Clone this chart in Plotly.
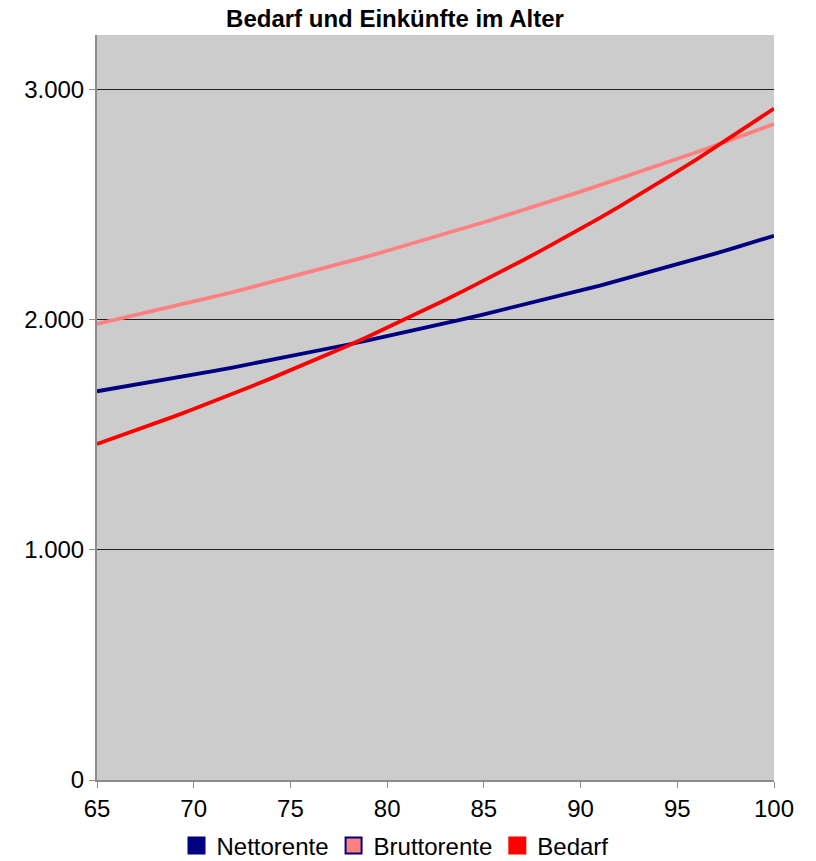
import plotly.graph_objects as go

# Age in years (x axis)
ages = list(range(65, 101))

# Monthly amounts per age
nettorente = [
    1688, 1702, 1716, 1730, 1745, 1760, 1775, 1791, 1807, 1823,
    1840, 1857, 1874, 1891, 1909, 1927, 1945, 1964, 1983, 2002,
    2022, 2042, 2062, 2083, 2104, 2126, 2147, 2170, 2192, 2216,
    2239, 2263, 2287, 2312, 2337, 2363,
]
bruttorente = [
    1980, 1999, 2018, 2037, 2057, 2077, 2098, 2118, 2140, 2161,
    2183, 2205, 2228, 2251, 2274, 2298, 2322, 2347, 2371, 2397,
    2422, 2448, 2474, 2501, 2528, 2555, 2583, 2611, 2639, 2668,
    2697, 2726, 2756, 2787, 2817, 2848,
]
bedarf = [
    1459, 1488, 1518, 1548, 1579, 1611, 1643, 1676, 1710, 1744,
    1779, 1814, 1850, 1887, 1925, 1964, 2003, 2043, 2084, 2126,
    2168, 2211, 2256, 2301, 2347, 2394, 2441, 2490, 2540, 2591,
    2643, 2695, 2749, 2804, 2860, 2916,
]

series_names = ["Nettorente", "Bruttorente", "Bedarf"]
series_colors = ["#000080", "#ff8080", "#ff0000"]
legend_borders = ["#000080", "#000080", "#ff0000"]

y_tickvals = [0, 1000, 2000, 3000]
y_ticktext = ["0", "1.000", "2.000", "3.000"]
x_tickvals = [65, 70, 75, 80, 85, 90, 95, 100]

FONT = "Liberation Sans, Arial, sans-serif"

fig = go.Figure()

for name, values, color in zip(series_names, [nettorente, bruttorente, bedarf], series_colors):
    fig.add_trace(go.Scatter(
        x=ages, y=values, mode="lines", name=name,
        line=dict(color=color, width=3.8),
        showlegend=False,
    ))

# Square legend keys
for name, color, border in zip(series_names, series_colors, legend_borders):
    fig.add_trace(go.Scatter(
        x=[None], y=[None], mode="markers", name=name,
        marker=dict(symbol="square", size=17, color=color,
                    line=dict(color=border, width=2)),
    ))

fig.update_layout(
    width=816, height=861,
    margin=dict(l=97, r=42, t=35, b=81, autoexpand=False),
    paper_bgcolor="white",
    plot_bgcolor="#cccccc",
    font=dict(family=FONT, size=24, color="black"),
    title=dict(
        text="<b>Bedarf und Einkünfte im Alter</b>",
        x=395 / 816, xanchor="center", xref="container",
        y=1 - 19 / 861, yanchor="middle", yref="container",
        font=dict(family=FONT, size=24, color="black"),
    ),
    showlegend=True,
    legend=dict(
        orientation="h", x=395 / 816, xanchor="center", xref="container",
        y=(861 - 846) / 861, yanchor="middle", yref="container",
        font=dict(family=FONT, size=24, color="black"),
        bgcolor="rgba(0,0,0,0)", itemwidth=30,
    ),
    xaxis=dict(
        range=[65, 100], tickvals=x_tickvals,
        showgrid=False, zeroline=False,
        showline=True, linecolor="#8c8c8c", linewidth=2,
        ticks="outside", ticklen=6, tickwidth=1, tickcolor="#8c8c8c",
        tickfont=dict(family=FONT, size=24),
        automargin=False, fixedrange=True,
    ),
    yaxis=dict(
        range=[0, 3235], tickvals=y_tickvals, ticktext=y_ticktext,
        showgrid=True, gridcolor="#222222", gridwidth=1,
        zeroline=False,
        showline=True, linecolor="#8c8c8c", linewidth=2,
        ticks="outside", ticklen=6, tickwidth=1, tickcolor="#8c8c8c",
        tickfont=dict(family=FONT, size=24),
        automargin=False, fixedrange=True,
    ),
)

fig.write_html("out.html")
